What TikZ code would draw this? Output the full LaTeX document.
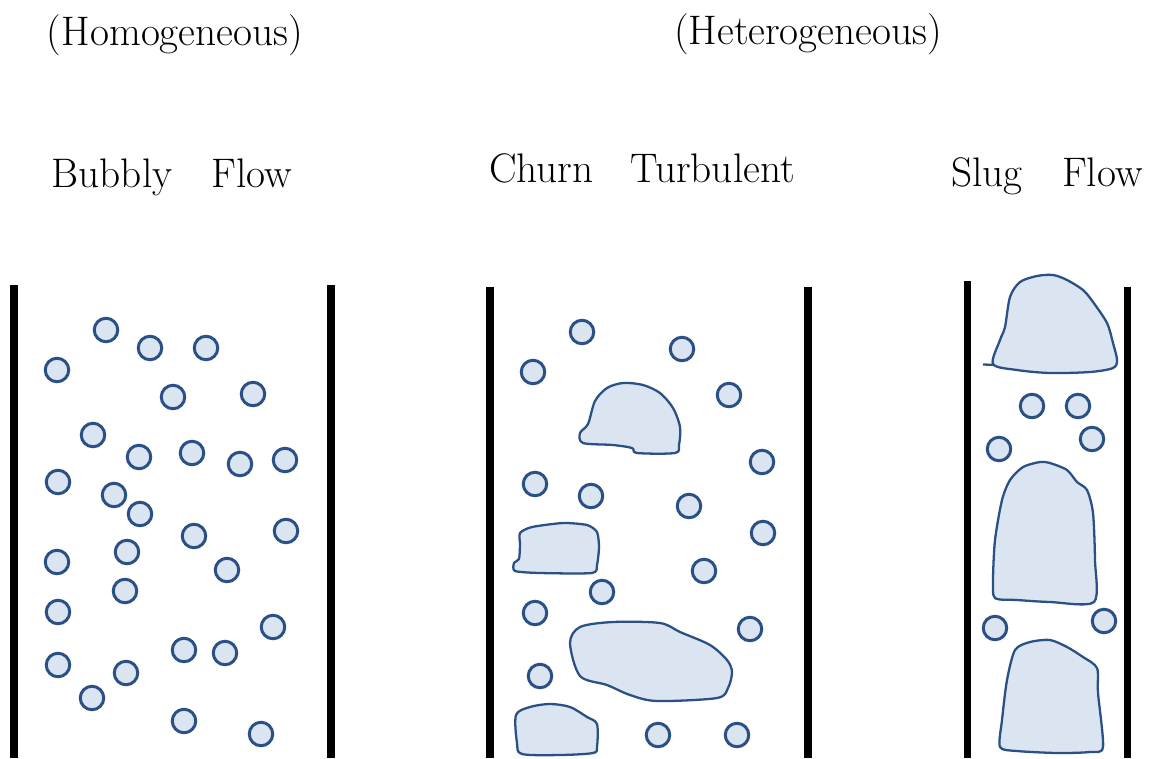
\documentclass[tikz,border=0pt]{standalone}
\usepackage{tikz}
\definecolor{gasedge}{RGB}{42,80,134}
\definecolor{gasfill}{RGB}{219,229,242}

\begin{document}
\begin{tikzpicture}[
		x=0.02cm, y=-0.02cm,
		title/.style={font=\fontsize{23.5}{27}\selectfont, anchor=base, inner sep=0pt},
		regime/.style={title},
		wall/.style={line width=4pt, black},
		bubble/.style={circle, draw=gasedge, fill=gasfill, line width=1.7pt,
			minimum size=0.47cm, inner sep=0pt},
		blob/.style={draw=gasedge, fill=gasfill, line width=1.3pt, line join=round}
		]
		\useasboundingbox (0,0) rectangle (1152,758);
		
		% Headings
		\node[title] (homo)   at (175,45) {(Homogeneous)};
		\node[title] (hetero) at (808,44) {(Heterogeneous)};
		\node[regime] (bubbly) at (172,187) {Bubbly\hspace{0.95em}Flow};
		\node[regime] (churn)  at (642,182) {Churn\hspace{0.9em}Turbulent};
		\node[regime] (slug)   at (1047,186) {Slug\hspace{0.95em}Flow};
		
		% Pipe walls
		\draw[wall] (14,285) -- (14,758);
		\draw[wall] (331,285) -- (331,758);
		\draw[wall] (490,287) -- (490,758);
		\draw[wall] (808,287) -- (808,758);
		\draw[wall] (967,281) -- (967,758);
		\draw[wall] (1127,287) -- (1127,758);
		
		% Bubbly flow: small bubbles only
		\foreach \x/\y [count=\i] in {106/330, 150/348, 206/348, 57/370, 173/397, 253/394,
			93/435, 139/457, 192/453, 240/464, 285/460, 58/482, 114/495, 140/514,
			194/536, 286/531, 57/562, 127/552, 227/570, 125/591, 58/612, 273/627,
			184/650, 225/653, 58/665, 126/673, 92/698, 184/721, 261/734}
		\node[bubble] (bb\i) at (\x,\y) {};
		
		% Churn turbulent: bubbles and large caps
		\foreach \x/\y [count=\i] in {582/332, 533/372, 682/349, 729/395, 762/462,
			535/484, 591/496, 689/506, 763/533, 704/571, 602/592, 535/613,
			750/629, 540/676, 658/735, 737/735}
		\node[bubble] (cb\i) at (\x,\y) {};
		
		\draw[blob] plot[smooth cycle, tension=0.5] coordinates {
			(583,443) (580,433) (588,424) (595,401) (607,388) (623,383) (643,385)
			(660,393) (673,408) (680,427) (679,445) (675,453) (637,453) (632,448)
			(613,445)};
		\draw[blob] plot[smooth cycle, tension=0.4] coordinates {
			(520,533) (532,527) (563,523) (587,525) (597,532) (599,547) (597,565)
			(592,573) (540,573) (515,571) (514,563) (519,559) (520,545)};
		\draw[blob] plot[smooth cycle, tension=0.5] coordinates {
			(570,643) (580,627) (613,622) (660,623) (680,632) (710,645) (727,660)
			(732,672) (728,688) (717,698) (657,701) (630,695) (607,685) (580,676)};
		\draw[blob] plot[smooth cycle, tension=0.5] coordinates {
			(516,715) (530,707) (550,704) (570,707) (587,717) (597,724) (597,747)
			(593,753) (560,755) (522,754) (517,743)};
		
		% Slug flow: Taylor bubbles with a few small ones between
		\draw[blob] (983,364.5) -- (998,365);
		\draw[blob] plot[smooth cycle, tension=0.5] coordinates {
			(993,364) (1000,340) (1005,327) (1010,297) (1020,282) (1037,276)
			(1053,275) (1067,280) (1083,290) (1093,302) (1107,323) (1113,343)
			(1117,360) (1113,368) (1090,372) (1050,373) (1017,370)};
		\draw[blob] plot[smooth cycle, tension=0.45] coordinates {
			(995,598) (993,580) (995,540) (1002,500) (1010,480) (1023,467)
			(1040,462) (1050,463) (1067,470) (1077,482) (1087,490) (1093,513)
			(1095,560) (1094,602) (1050,602) (1017,600)};
		\draw[blob] plot[smooth cycle, tension=0.45] coordinates {
			(1000,747) (1002,720) (1007,680) (1015,650) (1030,642) (1050,640)
			(1067,647) (1083,657) (1097,668) (1098,693) (1103,747) (1090,752)
			(1057,753) (1017,751)};
		
		\foreach \x/\y [count=\i] in {1032/406, 1078/406, 999/449, 1092/439,
			995/628, 1104/621}
		\node[bubble] (sb\i) at (\x,\y) {};
		
	\end{tikzpicture}
\end{document}
